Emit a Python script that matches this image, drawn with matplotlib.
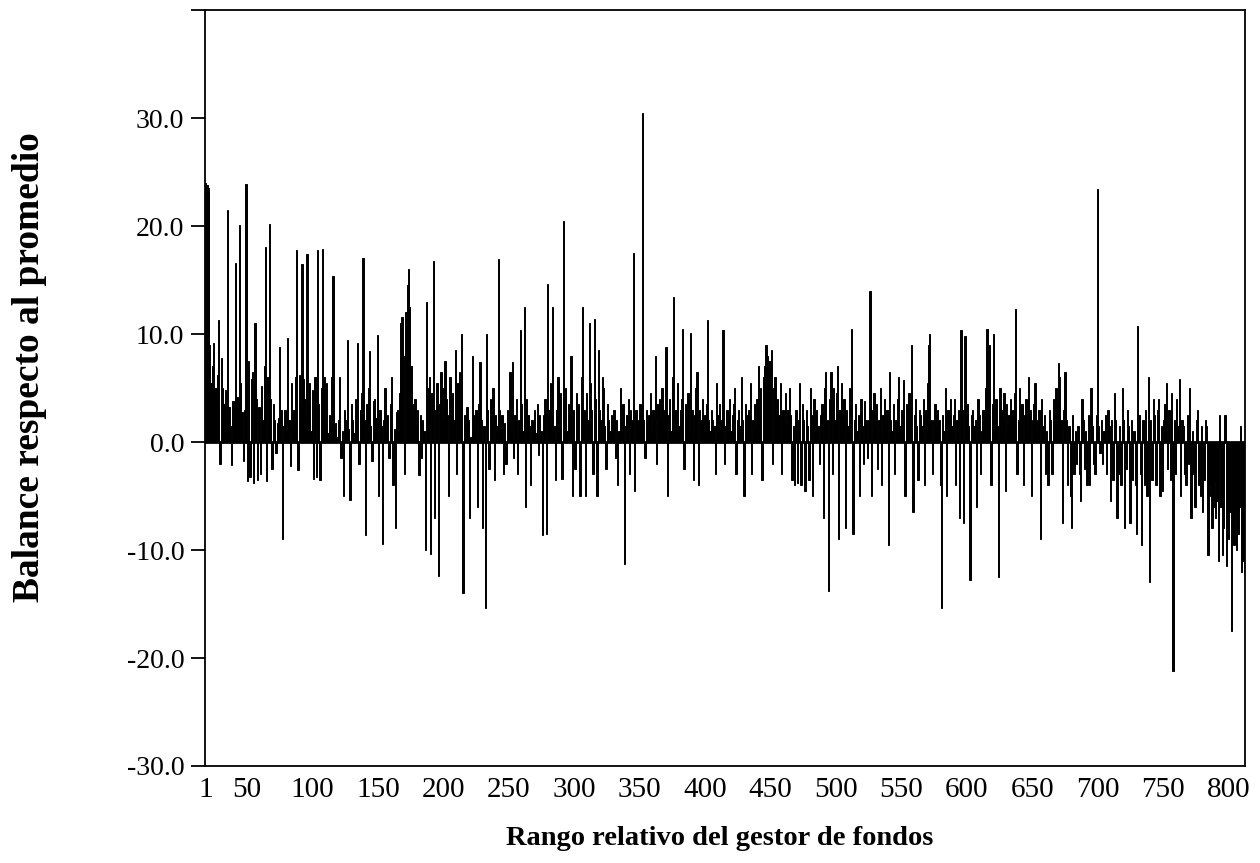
import numpy as np
import matplotlib
matplotlib.use("Agg")
import matplotlib.pyplot as plt

# balance of each fund manager vs. the average, ordered by relative rank (1..800)
balance = [
    24.0, 23.8, 23.5, 9.0, 5.5, 7.0, 9.2, 4.5, 5.0, 6.2,
    11.3, -2.0, 7.8, 5.0, 3.5, 4.8, 2.5, 21.5, 3.2, 1.5,
    -2.1, 3.8, 3.0, 16.6, 4.2, 3.5, 20.1, 5.5, 2.8, -1.8,
    3.0, 23.9, -3.6, 7.5, -3.2, 5.8, 6.5, -3.8, 11.0, 4.0,
    -3.5, 3.2, -3.0, 5.2, 2.0, 7.0, 18.1, -3.6, 6.0, 20.2,
    4.0, -2.5, 3.5, 2.0, -1.0, 1.8, 2.2, 8.8, 3.0, -9.0,
    1.5, 3.0, 0.8, 9.6, 2.0, -2.2, 5.5, 1.2, 3.0, 6.0,
    17.8, -2.6, 6.2, 3.5, 16.5, 5.8, 4.0, 2.5, 17.4, 3.5,
    5.5, 1.0, 4.8, -3.4, 6.0, -3.2, 17.8, 3.5, -3.5, 5.0,
    17.9, 6.0, 1.5, 5.5, 0.8, 2.5, 1.2, 6.0, 15.4, 0.6,
    1.8, 0.5, 2.0, 6.0, -1.5, 1.0, -5.0, 3.0, 2.0, 9.4,
    1.2, -5.4, 3.5, 2.0, 0.8, 4.0, 2.5, 9.2, -2.0, 3.0,
    4.5, 17.0, 2.0, -8.6, 3.5, 5.0, 8.4, 1.5, -1.8, 3.8,
    4.0, 2.2, 9.9, -5.0, 3.0, 1.5, -9.4, 2.0, 5.0, 1.0,
    2.5, -1.5, 3.5, 6.0, -4.0, 1.2, -8.0, 2.8, 3.0, 4.5,
    11.0, 11.6, 8.0, -3.0, 12.0, 14.5, 16.0, 12.5, 7.0, 3.5,
    2.0, 4.0, 1.5, 3.0, -3.1, 2.5, -1.5, 2.0, 1.0, -10.0,
    13.0, 5.0, 6.0, -10.4, 4.5, 16.8, -7.0, 3.0, 5.5, -12.4,
    3.5, 6.5, 2.0, 5.0, 7.5, 4.0, 2.5, -5.0, 6.0, 3.0,
    4.5, 2.0, 8.5, -3.0, 5.5, 6.5, 3.0, 10.0, -14.0, 2.5,
    1.5, 3.2, 2.0, -7.0, 0.5, 8.0, 2.5, 1.0, 3.0, -6.0,
    3.5, 7.4, 2.0, -8.0, 1.5, -15.4, 10.0, 3.0, -2.5, 4.0,
    2.0, 5.0, -3.5, 2.5, 1.5, 16.9, 3.0, 1.0, 2.5, -3.0,
    1.8, -2.0, 3.0, 2.2, 6.5, 1.0, 7.4, -1.5, 2.5, 4.0,
    -3.0, 2.0, 10.4, 3.5, 1.0, 12.5, -6.0, 4.0, 2.5, 1.5,
    -4.0, 2.0, 1.5, 3.0, 0.8, 3.5, -1.2, 2.5, 1.0, -8.6,
    2.5, 4.0, -8.5, 14.6, 3.0, 5.5, 2.0, 12.5, 1.5, -3.5,
    3.0, 6.0, 1.5, 4.5, -3.4, 20.5, 2.0, 5.0, 1.0, 3.5,
    2.5, 8.0, -5.0, 3.0, -2.5, 4.5, 1.5, 3.5, -5.0, 6.0,
    12.5, 3.0, -5.0, 4.5, 2.0, 11.0, 5.5, 3.0, -3.0, 11.4,
    4.0, -5.0, 8.5, 3.0, 2.0, 6.0, 5.0, 1.5, -2.5, 3.5,
    2.0, 1.0, 2.5, 1.5, 3.0, -1.5, 2.0, -4.0, 1.0, 5.0,
    2.0, 3.5, -11.3, 1.5, 2.5, 4.0, -3.0, 3.0, 2.0, 17.5,
    -4.5, 3.0, 2.0, 1.5, 3.5, 2.5, 30.5, 2.0, -1.5, 3.0,
    1.5, 2.5, 4.5, 1.0, 3.0, 2.0, 8.0, -2.0, 3.5, 4.0,
    2.0, 5.0, 1.5, 3.0, 8.8, -5.0, 2.5, 4.0, 1.0, 6.0,
    13.4, 3.0, 2.0, 5.5, 1.5, 3.0, 4.0, 10.5, -2.5, 3.5,
    2.0, 4.5, 1.0, 10.1, 3.0, -3.5, 2.5, 5.0, 6.5, -4.0,
    3.0, 2.0, 4.0, 1.5, 2.5, 3.5, 11.3, 2.0, 1.0, 3.0,
    2.0, 1.5, -3.0, 5.5, 2.5, 3.5, 1.0, 2.0, 10.4, -2.0,
    1.5, 3.0, 2.0, 4.0, 1.0, 2.5, 3.5, 5.0, -3.0, 2.0,
    3.0, 1.5, 6.0, 2.0, -5.0, 3.5, 1.0, 2.5, 3.0, 5.5,
    -3.0, 2.0, 3.5, 1.5, 4.0, 7.0, 2.5, 5.0, -3.5, 6.0,
    7.0, 9.0, 8.0, 6.5, 7.5, 8.5, -2.0, 5.0, 6.0, 3.5,
    4.0, 2.5, 5.5, -3.0, 3.0, 2.0, 4.5, 1.5, 3.0, 5.0,
    2.5, -3.5, 1.5, -4.0, 3.0, -3.8, 2.0, 5.5, -4.0, 3.5,
    2.0, -4.5, 3.0, 1.5, -3.5, 5.0, 2.5, -5.0, 4.0, 1.0,
    3.0, 1.5, -2.0, 2.5, 3.5, -7.0, 5.0, 6.5, 2.0, -13.8,
    4.0, 6.5, -3.0, 5.0, 2.0, 4.5, 7.0, -9.0, 3.0, 5.5,
    2.5, 4.0, -8.0, 3.0, 1.5, 5.0, 3.5, 10.5, -8.5, 2.0,
    3.5, 1.0, 2.5, -5.0, 4.0, 1.5, -2.0, 3.8, 2.0, -1.5,
    2.0, 14.0, -5.0, 3.0, 4.5, 1.5, 3.5, -2.5, 2.0, 5.0,
    -4.0, 2.5, 4.0, 1.5, 3.0, -9.5, 6.5, 2.0, 1.0, 3.5,
    -3.0, 2.0, 4.0, 6.0, 1.5, 3.0, 2.5, 5.7, -5.0, 3.5,
    2.0, 4.5, 3.0, 9.0, -6.5, 2.5, 4.0, 1.5, -3.5, 3.0,
    2.5, 1.5, 4.0, -4.0, 3.0, 5.5, 9.0, 10.0, 2.0, -3.0,
    2.0, 3.5, 1.5, 3.0, 2.0, -4.0, -15.4, 2.5, 1.0, 5.0,
    -5.0, 3.0, 2.0, 4.0, 1.5, 2.5, 4.0, -4.0, 2.0, 3.0,
    -7.0, 10.4, 3.0, -7.5, 9.8, 2.5, 3.5, 1.5, -12.8, 2.5,
    3.0, 1.5, 2.0, -6.0, 4.0, 2.5, -3.0, 1.0, 3.0, 2.0,
    5.0, 10.5, 2.5, 9.0, -4.0, 3.5, 10.0, 2.0, 4.0, 1.5,
    -12.5, 5.0, 3.0, 2.0, 4.5, -4.5, 3.5, 1.5, 2.5, 4.0,
    2.0, 3.0, 4.5, 12.3, -3.0, 2.0, 5.0, 1.5, 3.5, -4.0,
    2.5, 4.0, 1.5, 6.0, 3.0, -5.0, 2.0, 3.5, 5.5, 1.0,
    2.0, 3.0, -9.0, 4.0, 1.5, 2.5, -3.0, 1.0, -4.0, 3.0,
    2.0, -3.0, 4.0, 1.5, 5.0, 3.5, 7.3, 6.0, 2.0, -7.5,
    3.0, 6.5, 2.0, -4.0, 1.5, -5.0, -8.0, 2.5, -3.0, 1.0,
    -2.0, 1.5, -3.0, -5.5, 4.0, 2.0, -2.5, 1.0, -4.0, 2.5,
    -4.0, 5.0, 1.5, -2.0, -3.0, 2.5, 23.4, 1.5, -1.0, 2.0,
    -2.0, 1.0, 2.5, -3.0, 3.0, 1.5, -5.5, 2.0, -3.5, 4.5,
    2.0, -7.0, -3.0, 1.5, -4.0, 5.0, 2.0, -8.0, -2.5, 3.0,
    1.5, -7.5, 2.0, -3.5, 1.0, -4.0, -8.5, 10.7, 2.5, -3.0,
    -9.5, 2.0, -4.0, 3.0, -5.0, 6.0, -13.0, 2.0, -3.5, 4.0,
    2.5, -4.0, 3.0, 4.0, -5.0, 1.5, -4.5, 2.0, 3.5, 5.5,
    -2.5, 3.0, -3.5, 4.5, -21.2, 2.0, -3.0, 4.0, 1.5, 5.8,
    -5.0, 2.0, 1.5, -3.0, -4.0, 2.5, -2.0, 5.0, -7.0, 1.0,
    -3.0, -6.0, 2.0, 3.0, -4.0, -5.0, 1.5, -6.5, -3.5, 2.0,
    1.5, -10.5, -5.0, -4.0, -8.0, -6.0, -3.5, -7.0, -5.5, -11.0,
    2.5, -6.0, -10.5, -8.0, 2.5, -11.5, -7.0, -9.0, -6.5, -17.5,
    -8.0, -9.5, -7.0, -10.0, -8.5, -6.0, 1.5, -12.0, -11.0, -12.2,
]
rank = np.arange(1, len(balance) + 1)

x_labels = ["1", "50", "100", "150", "200", "250", "300", "350", "400",
            "450", "500", "550", "600", "650", "700", "750", "800"]
y_ticks = [-30, -20, -10, 0, 10, 20, 30, 40]

serif = "Liberation Serif"

fig = plt.figure(figsize=(12.6, 8.63), dpi=100)
ax = fig.add_axes([0.1627, 0.1124, 0.8254, 0.876])

ax.bar(rank, balance, width=1.0, color="black", edgecolor="black", linewidth=0.7)
ax.axhline(0, color="black", linewidth=2.0)

ax.set_xlim(0.5, len(balance) + 0.5)
ax.set_ylim(-30, 40)

# in the source the labels 50..800 sit somewhat left of their own bar
x_pos = [1] + [32.8 + k * 50.35 for k in range(len(x_labels) - 1)]
ax.set_xticks(x_pos)
ax.set_xticklabels(x_labels, fontfamily=serif, fontsize=21)
ax.tick_params(axis="x", length=0, pad=8)

ax.set_yticks(y_ticks)
ax.set_yticklabels([f"{v:.1f}" if v < 40 else "" for v in y_ticks],
                   fontfamily=serif, fontsize=20)
ax.tick_params(axis="y", direction="out", length=10, width=1.3, pad=5)

for s in ax.spines.values():
    s.set_linewidth(1.3)

ax.set_ylabel("Balance respecto al promedio", fontfamily=serif,
              fontweight="bold", fontsize=27)
ax.yaxis.set_label_coords(-0.152, 0.528)
ax.set_xlabel("Rango relativo del gestor de fondos", fontfamily=serif,
              fontweight="bold", fontsize=20.5)
ax.xaxis.set_label_coords(0.495, -0.080)

fig.savefig("out.png", dpi=100)
